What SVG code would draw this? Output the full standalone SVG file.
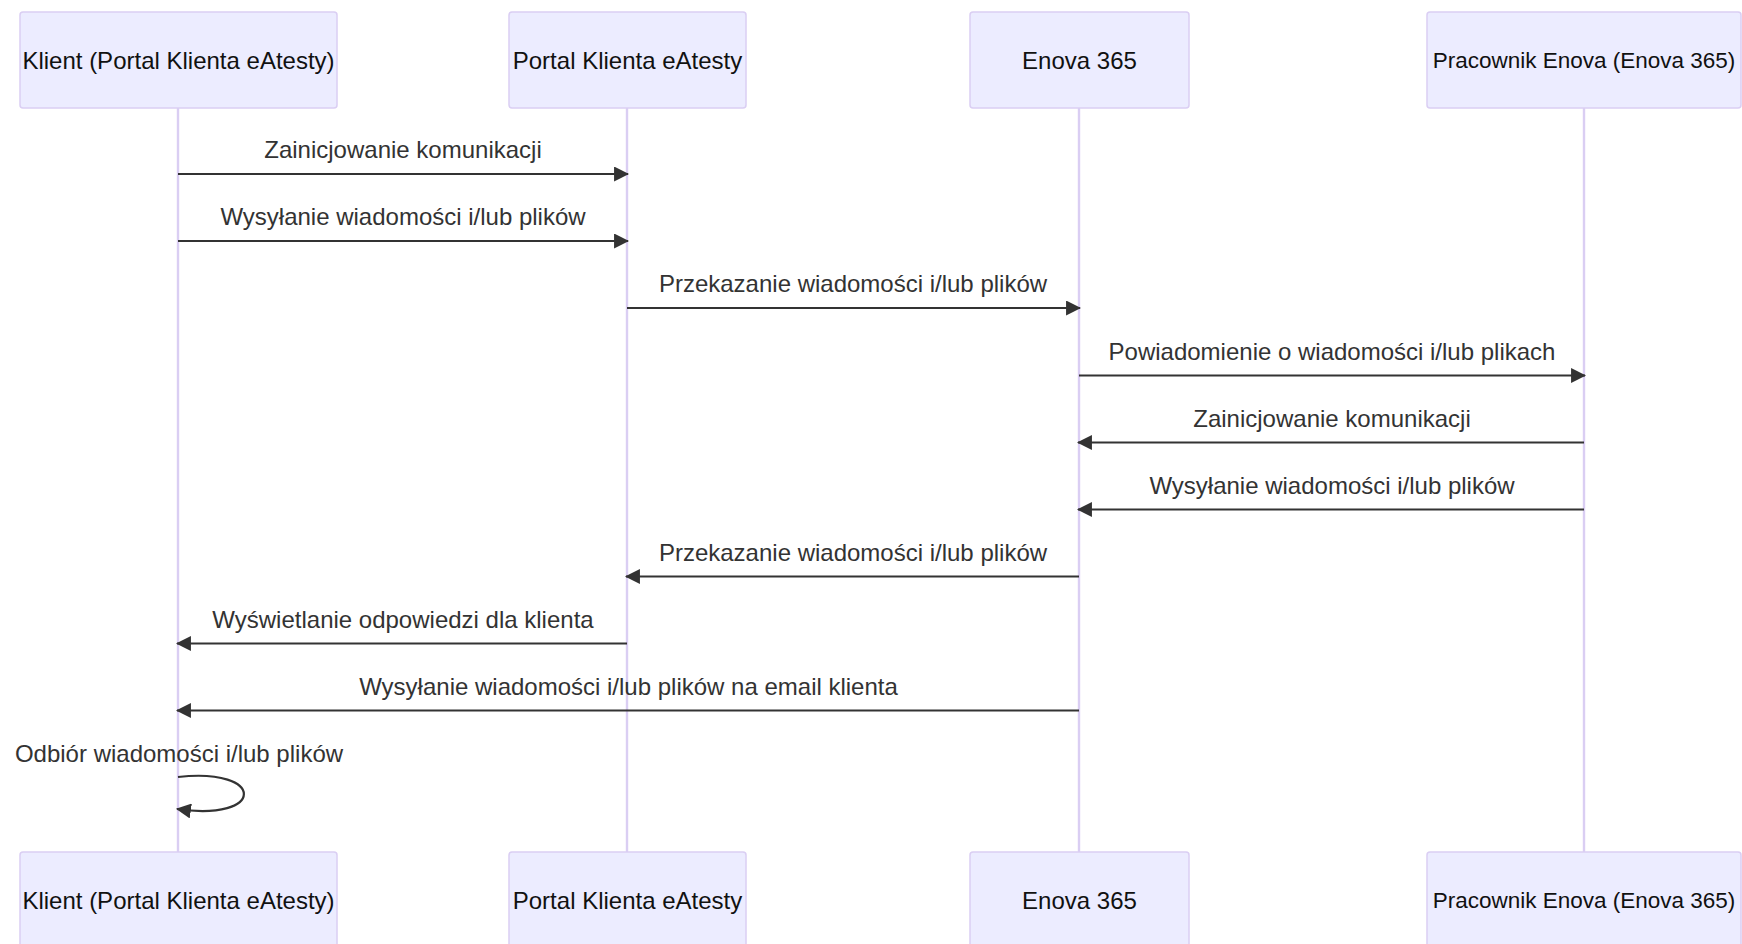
<svg xmlns="http://www.w3.org/2000/svg" width="1742" height="944" viewBox="0 0 1742 944">
<style>
  .actor rect { fill: #ECECFF; stroke: #dacef3; stroke-width: 1.5; }
  .actor text { font-family: "Liberation Sans", Arial, sans-serif; font-size: 24px; fill: #111; text-anchor: middle; dominant-baseline: central; }
  .actor text.narrow { font-size: 22.5px; }
  .lifeline { stroke: #dacef3; stroke-width: 2.4; }
  .msg { stroke: #333; stroke-width: 2.2; fill: none; marker-end: url(#arrow); }
  .lbl { font-family: "Liberation Sans", Arial, sans-serif; font-size: 24px; fill: #333; text-anchor: middle; }
</style>
<defs>
  <marker id="arrow" markerUnits="userSpaceOnUse" markerWidth="15" markerHeight="15" viewBox="0 0 14 14" refX="13" refY="7" orient="auto">
    <path d="M0,0 L14,7 L0,14 z" fill="#333"/>
  </marker>
</defs>
<rect width="1742" height="944" fill="#ffffff"/>
<g id="lifelines">
  <line class="lifeline" x1="178" y1="108" x2="178" y2="852"/>
  <line class="lifeline" x1="627" y1="108" x2="627" y2="852"/>
  <line class="lifeline" x1="1079" y1="108" x2="1079" y2="852"/>
  <line class="lifeline" x1="1584" y1="108" x2="1584" y2="852"/>
</g>
<g id="actor-klient-top" class="actor"><rect x="20" y="12" width="317" height="96" rx="3"/><text x="178.5" y="60">Klient (Portal Klienta eAtesty)</text></g>
<g id="actor-portal-top" class="actor"><rect x="509" y="12" width="237" height="96" rx="3"/><text x="627.5" y="60">Portal Klienta eAtesty</text></g>
<g id="actor-enova-top" class="actor"><rect x="970" y="12" width="219" height="96" rx="3"/><text x="1079.5" y="60">Enova 365</text></g>
<g id="actor-pracownik-top" class="actor"><rect x="1427" y="12" width="314" height="96" rx="3"/><text class="narrow" x="1584" y="60">Pracownik Enova (Enova 365)</text></g>
<g id="actor-klient-bottom" class="actor"><rect x="20" y="852" width="317" height="96" rx="3"/><text x="178.5" y="900">Klient (Portal Klienta eAtesty)</text></g>
<g id="actor-portal-bottom" class="actor"><rect x="509" y="852" width="237" height="96" rx="3"/><text x="627.5" y="900">Portal Klienta eAtesty</text></g>
<g id="actor-enova-bottom" class="actor"><rect x="970" y="852" width="219" height="96" rx="3"/><text x="1079.5" y="900">Enova 365</text></g>
<g id="actor-pracownik-bottom" class="actor"><rect x="1427" y="852" width="314" height="96" rx="3"/><text class="narrow" x="1584" y="900">Pracownik Enova (Enova 365)</text></g>
<g id="connectors">
  <line class="msg" x1="178" y1="174" x2="628" y2="174"/>
  <text class="lbl" x="403" y="158">Zainicjowanie komunikacji</text>
  <line class="msg" x1="178" y1="241" x2="628" y2="241"/>
  <text class="lbl" x="403" y="225">Wysyłanie wiadomości i/lub plików</text>
  <line class="msg" x1="627" y1="308" x2="1080" y2="308"/>
  <text class="lbl" x="853" y="292">Przekazanie wiadomości i/lub plików</text>
  <line class="msg" x1="1079" y1="375.5" x2="1585" y2="375.5"/>
  <text class="lbl" x="1332" y="359.5">Powiadomienie o wiadomości i/lub plikach</text>
  <line class="msg" x1="1584" y1="442.5" x2="1078" y2="442.5"/>
  <text class="lbl" x="1332" y="426.5">Zainicjowanie komunikacji</text>
  <line class="msg" x1="1584" y1="509.5" x2="1078" y2="509.5"/>
  <text class="lbl" x="1332" y="493.5">Wysyłanie wiadomości i/lub plików</text>
  <line class="msg" x1="1079" y1="576.5" x2="626" y2="576.5"/>
  <text class="lbl" x="853" y="560.5">Przekazanie wiadomości i/lub plików</text>
  <line class="msg" x1="627" y1="643.5" x2="177" y2="643.5"/>
  <text class="lbl" x="403" y="627.5">Wyświetlanie odpowiedzi dla klienta</text>
  <line class="msg" x1="1079" y1="710.5" x2="177" y2="710.5"/>
  <text class="lbl" x="628.5" y="694.5">Wysyłanie wiadomości i/lub plików na email klienta</text>
  <path class="msg" d="M178,777 C266,767 266,822 177,809"/>
  <text class="lbl" x="179" y="762">Odbiór wiadomości i/lub plików</text>
</g>
</svg>
